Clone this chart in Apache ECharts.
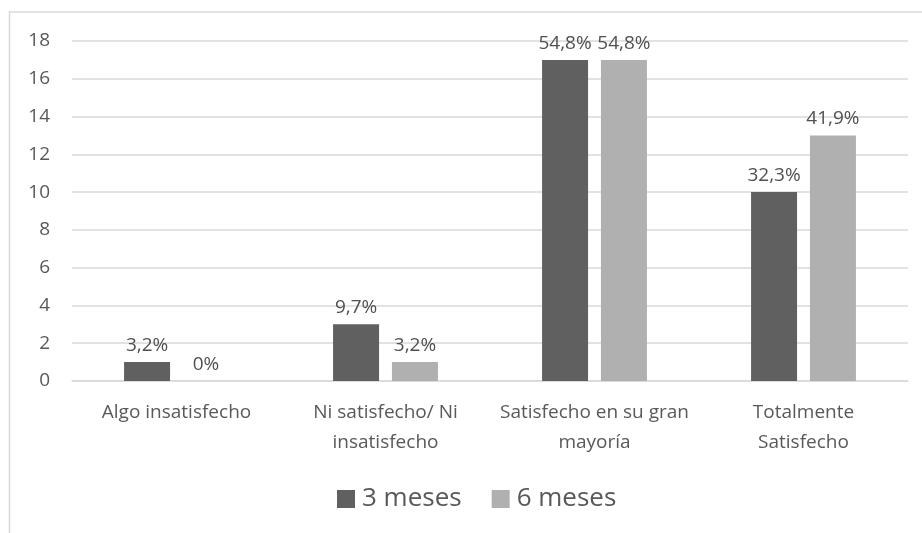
<!DOCTYPE html>
<html><head><meta charset="utf-8">
<script src="https://cdn.jsdelivr.net/npm/echarts@6/dist/echarts.min.js"></script>
<style>html,body{margin:0;padding:0;background:#fff}#c{width:922px;height:533px}</style>
</head><body><div id="c"></div>
<script>
const categories = ["Algo insatisfecho", "Ni satisfecho/ Ni\ninsatisfecho", "Satisfecho en su gran\nmayoría", "Totalmente\nSatisfecho"];
const seriesNames = ["3 meses", "6 meses"];
const values3 = [1, 3, 17, 10];
const values6 = [0, 1, 17, 13];
const labels3 = ["3,2%", "9,7%", "54,8%", "32,3%"];
const labels6 = ["0%", "3,2%", "54,8%", "41,9%"];
const yTicks = {min: 0, max: 18, interval: 2};

const font = "'Open Sans', 'Noto Sans', sans-serif";
const chart = echarts.init(document.getElementById('c'));
function lab(arr){ return {show:true, position:'top', distance:7, color:'#505050', fontSize:19, fontFamily:font, formatter: p => arr[p.dataIndex]}; }
chart.setOption({
  animation:false,
  graphic:[
    {type:'line', shape:{x1:9, y1:12, x2:922, y2:12}, style:{stroke:'#d9d9d9', lineWidth:1.5}},
    {type:'line', shape:{x1:9.5, y1:11, x2:9.5, y2:533}, style:{stroke:'#d9d9d9', lineWidth:1.5}}
  ],
  grid:{left:72, right:14, top:41, height:340},
  legend:{top:481, left:332, itemWidth:18, itemHeight:18, itemGap:30, icon:'rect',
    textStyle:{fontSize:26, color:'#595959', fontFamily:font, padding:[0,0,0,2]}, data:seriesNames},
  xAxis:{type:'category', data:categories,
    axisLine:{lineStyle:{color:'#d9d9d9', width:1.5}}, axisTick:{show:false},
    axisLabel:{color:'#595959', fontSize:19, fontFamily:font, lineHeight:30, margin:17, interval:0}},
  yAxis:{type:'value', min:yTicks.min, max:yTicks.max, interval:yTicks.interval,
    axisLine:{show:false}, axisTick:{show:false},
    splitLine:{lineStyle:{color:'#d9d9d9', width:1.5}},
    axisLabel:{color:'#595959', fontSize:19, fontFamily:font, margin:22}},
  series:[
    {name:seriesNames[0], type:'bar', data:values3, barWidth:46, barGap:'28%', itemStyle:{color:'#606060'}, label:lab(labels3)},
    {name:seriesNames[1], type:'bar', data:values6, barWidth:46, itemStyle:{color:'#b0b0b0'}, label:lab(labels6)}
  ]
});
</script></body></html>
